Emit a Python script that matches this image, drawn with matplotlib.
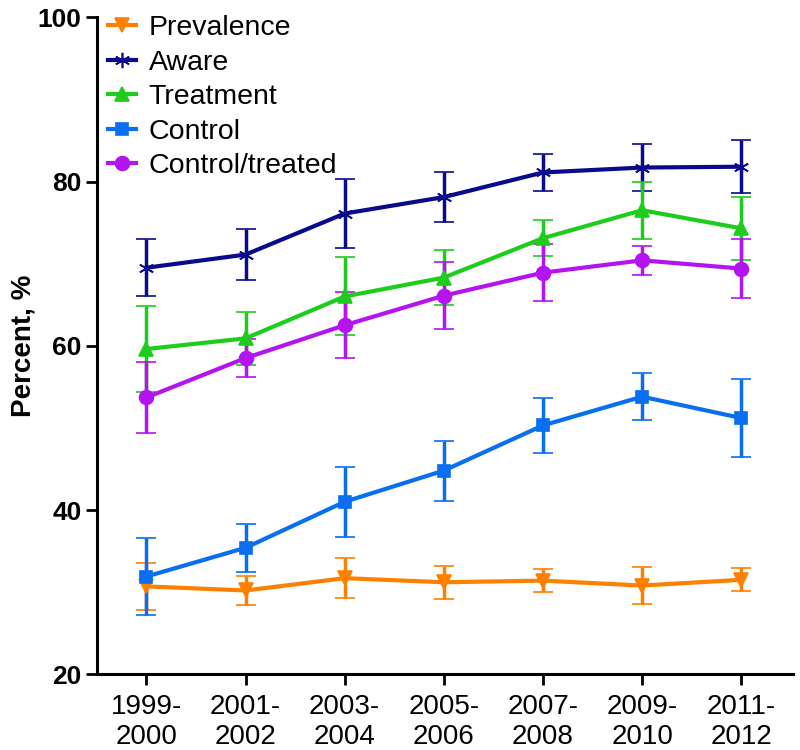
import numpy as np
import matplotlib.pyplot as plt

plt.rcParams['font.family'] = ['Liberation Sans', 'DejaVu Sans']

periods = ["1999-\n2000", "2001-\n2002", "2003-\n2004", "2005-\n2006",
           "2007-\n2008", "2009-\n2010", "2011-\n2012"]

prevalence = [30.7, 30.2, 31.7, 31.2, 31.4, 30.8, 31.5]
prevalence_err = [2.9, 1.75, 2.4, 2.0, 1.4, 2.3, 1.4]

aware = [69.5, 71.1, 76.1, 78.1, 81.1, 81.7, 81.8]
aware_err = [3.5, 3.1, 4.2, 3.0, 2.2, 2.9, 3.2]

treatment = [59.6, 60.9, 66.0, 68.3, 73.1, 76.5, 74.3]
treatment_err = [5.2, 3.2, 4.75, 3.3, 2.2, 3.5, 3.8]

control = [31.9, 35.4, 41.0, 44.8, 50.3, 53.8, 51.2]
control_err = [4.65, 2.95, 4.25, 3.65, 3.3, 2.9, 4.7]

ctrl_treated = [53.7, 58.5, 62.5, 66.1, 68.9, 70.4, 69.4]
ctrl_treated_err = [4.3, 2.3, 4.05, 4.05, 3.5, 1.8, 3.6]

series = [
    ("Prevalence", prevalence, prevalence_err, '#FF8000', 'v', 10),
    ("Aware", aware, aware_err, '#0A0A8C', (6, 2, 0), 11),
    ("Treatment", treatment, treatment_err, '#1ECC1E', '^', 10),
    ("Control", control, control_err, '#0A6EF0', 's', 9),
    ("Control/treated", ctrl_treated, ctrl_treated_err, '#B414F0', 'o', 10),
]

fig = plt.figure(figsize=(8, 7.5), dpi=100)
ax = fig.add_axes([0.121, 0.101, 0.870, 0.876])

x = np.arange(len(periods))
handles = []
for name, vals, errs, col, mk, ms in series:
    ax.errorbar(x, vals, yerr=errs, color=col, lw=3, marker=mk, ms=ms,
                mew=1.2, elinewidth=2.5, capsize=7, capthick=2.5)
    h, = ax.plot([], [], color=col, lw=3, marker=mk, ms=ms, mew=1.2, label=name)
    handles.append(h)

ax.set_xlim(-0.5, 6.52)
ax.set_ylim(20, 100)
ax.set_yticks([20, 40, 60, 80, 100])
ax.set_xticks(x)
ax.set_xticklabels(periods, fontsize=20)
for t in ax.get_yticklabels():
    t.set_fontweight('bold')
    t.set_fontsize(19)
ax.set_ylabel("Percent, %", fontsize=20, fontweight='bold', labelpad=1)

for s in ['top', 'right']:
    ax.spines[s].set_visible(False)
for s in ['left', 'bottom']:
    ax.spines[s].set_linewidth(2.2)
ax.tick_params(width=2, length=8, direction='out')
ax.tick_params(axis='x', pad=6)
ax.tick_params(axis='y', pad=3)

ax.legend(handles=handles, loc='upper left', frameon=False, fontsize=20.5,
          handlelength=1.0, handletextpad=0.45, labelspacing=0.3,
          borderaxespad=0.1, bbox_to_anchor=(-0.005, 1.025))

fig.savefig("out.png", dpi=100)
